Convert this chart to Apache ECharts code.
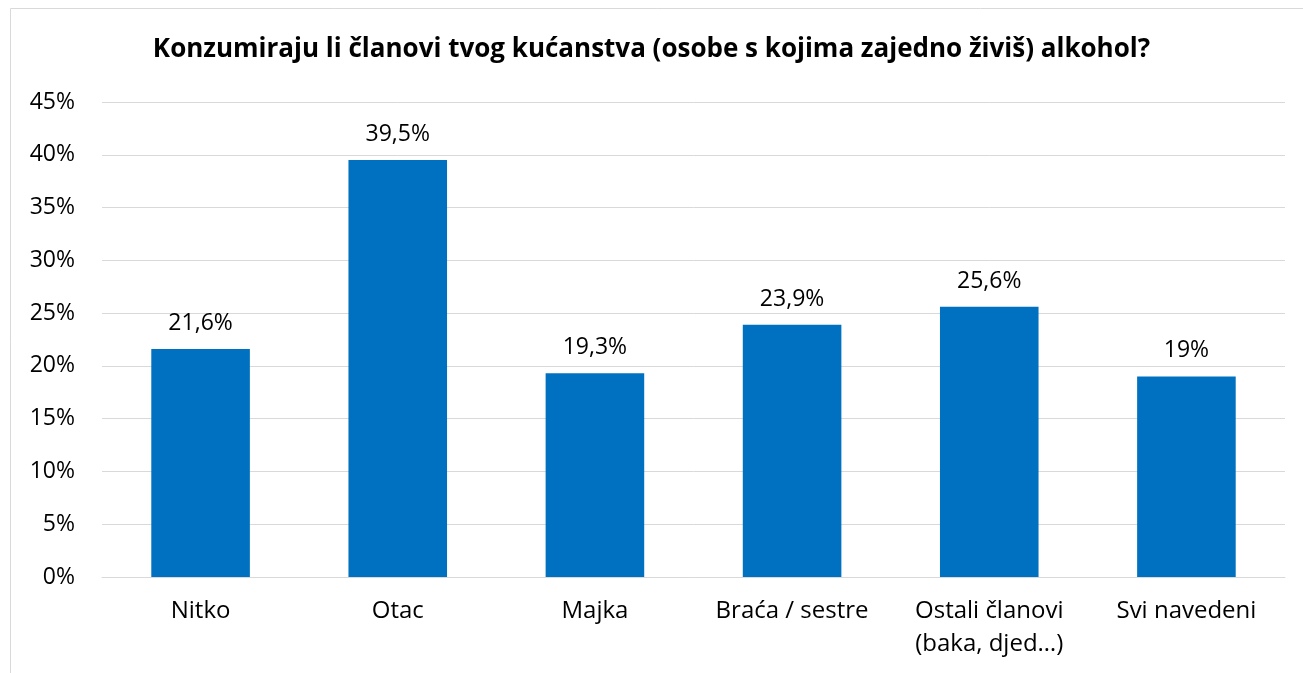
<!DOCTYPE html>
<html>
<head>
<meta charset="utf-8">
<script src="https://cdn.jsdelivr.net/npm/echarts@6/dist/echarts.min.js"></script>
<style>
    html, body { margin: 0; padding: 0; background: #fff; }
    #chart { width: 1303px; height: 673px; }
</style>
</head>
<body>
<div id="chart"></div>
<script>
!function(){

    // 数据
    const categories = ['Nitko', 'Otac', 'Majka', 'Braća / sestre', 'Ostali članovi\n(baka, djed…)', 'Svi navedeni']
    const values     = [21.6, 39.5, 19.3, 23.9, 25.6, 19]
    const labels     = ['21,6%', '39,5%', '19,3%', '23,9%', '25,6%', '19%']
    const yTicks     = [0, 5, 10, 15, 20, 25, 30, 35, 40, 45]

    const font = '"Open Sans", sans-serif'

    let chart = echarts.init(document.getElementById('chart'))

    let option = {
        animation: false,
        backgroundColor: '#fff',
        title: {
            text: 'Konzumiraju li članovi tvog kućanstva (osobe s kojima zajedno živiš) alkohol?',
            left: 'center',
            top: 32,
            textStyle: { fontFamily: font, fontSize: 26, fontWeight: 'bold', color: '#000' }
        },
        graphic: [{
            type: 'rect',
            shape: { x: 10.5, y: 8.5, width: 1400, height: 700 },
            style: { fill: 'none', stroke: '#d9d9d9', lineWidth: 1 },
            silent: true
        }],
        grid: { left: 102, right: 18, top: 102, bottom: 96, containLabel: false },
        xAxis: {
            type: 'category',
            data: categories,
            axisLine: { lineStyle: { color: '#d9d9d9', width: 1 } },
            axisTick: { show: false },
            axisLabel: { fontFamily: font, fontSize: 24, color: '#000', margin: 18, lineHeight: 33, interval: 0 }
        },
        yAxis: {
            type: 'value',
            min: 0,
            max: yTicks[yTicks.length - 1],
            interval: 5,
            axisLine: { show: false },
            axisTick: { show: false },
            splitLine: { lineStyle: { color: '#d9d9d9', width: 1 } },
            axisLabel: {
                fontFamily: font, fontSize: 23, color: '#000', margin: 27,
                formatter: v => v + '%'
            }
        },
        series: [{
            type: 'bar',
            data: values,
            barWidth: '50%',
            itemStyle: { color: '#0070c0' },
            label: {
                show: true,
                position: 'top',
                distance: 14,
                fontFamily: font, fontSize: 23, color: '#000',
                formatter: p => labels[p.dataIndex]
            }
        }]
    }

    chart.setOption(option)

}()
</script>
</body>
</html>
